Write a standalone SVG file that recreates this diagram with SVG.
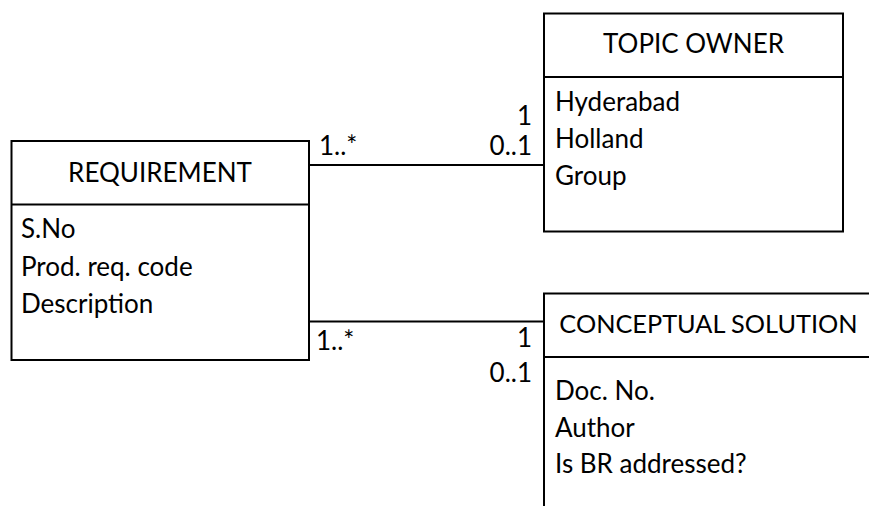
<svg xmlns="http://www.w3.org/2000/svg" width="869" height="506" viewBox="0 0 869 506">
<style>
.box{fill:#fff;stroke:#000;stroke-width:2}
.ln{fill:none;stroke:#000;stroke-width:2}
text{font-family:Lato,"Open Sans","Liberation Sans",sans-serif;font-size:26px;fill:#000}
.t{text-anchor:middle}
.r{text-anchor:end}
</style>
<rect width="869" height="506" fill="#fff"/>
<g id="connectors">
<line class="ln" x1="309" y1="165" x2="544" y2="165"/>
<line class="ln" x1="309" y1="321.5" x2="544" y2="321.5"/>
<text x="319" y="155">1..*</text>
<text class="r" x="532" y="125">1</text>
<text class="r" x="532" y="155">0..1</text>
<text x="316" y="350">1..*</text>
<text class="r" x="532" y="347">1</text>
<text class="r" x="532" y="382">0..1</text>
</g>
<g id="requirement">
<rect class="box" x="11.5" y="141" width="297.5" height="219"/>
<line class="ln" x1="11.5" y1="204.5" x2="309" y2="204.5"/>
<text class="t" x="160" y="182">REQUIREMENT</text>
<text x="21" y="238">S.No</text>
<text x="21" y="276">Prod. req. code</text>
<text x="21" y="313">Description</text>
</g>
<g id="topic-owner">
<rect class="box" x="544" y="13.5" width="299" height="218"/>
<line class="ln" x1="544" y1="77" x2="843" y2="77"/>
<text class="t" x="693.5" y="53">TOPIC OWNER</text>
<text x="555" y="111">Hyderabad</text>
<text x="555" y="148">Holland</text>
<text x="555" y="185">Group</text>
</g>
<g id="conceptual-solution">
<path class="ln" d="M870,293.5 H544 V507"/>
<line class="ln" x1="544" y1="357" x2="870" y2="357"/>
<text class="t" x="708.5" y="333" style="font-size:25.3px">CONCEPTUAL SOLUTION</text>
<text x="555" y="400">Doc. No.</text>
<text x="555" y="437">Author</text>
<text x="555" y="473">Is BR addressed?</text>
</g>
</svg>
